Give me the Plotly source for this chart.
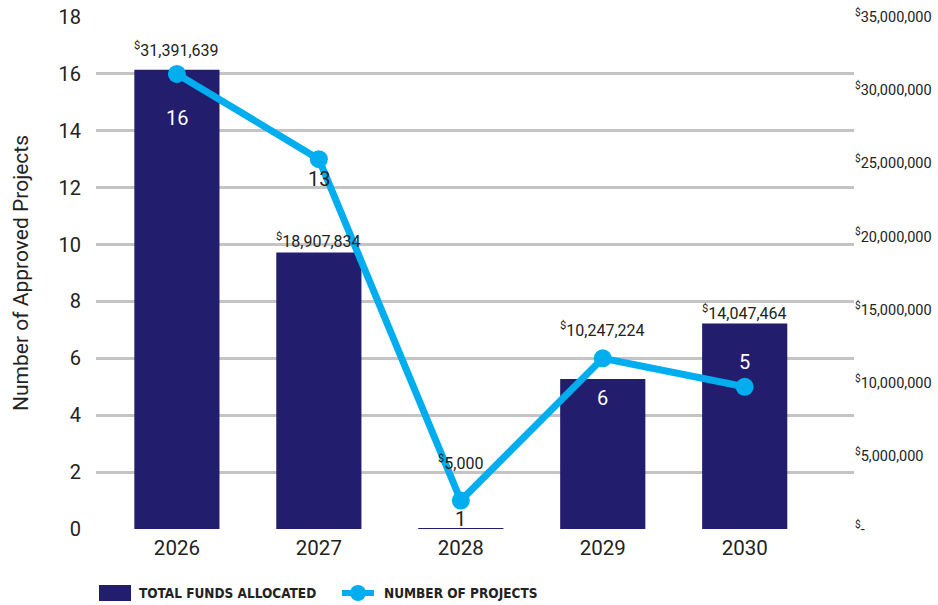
import plotly.graph_objects as go

# Data
years = ["2026", "2027", "2028", "2029", "2030"]
funds = [31391639, 18907834, 5000, 10247224, 14047464]
projects = [16, 13, 1, 6, 5]

left_ticks = [0, 2, 4, 6, 8, 10, 12, 14, 16, 18]
right_ticks = [0, 5000000, 10000000, 15000000, 20000000, 25000000, 30000000, 35000000]

# Styling
NAVY = "#231d6e"
BLUE = "#00aeef"
TEXT = "#222222"
GRID = "#c4c4c4"
FONT = "Roboto, 'Noto Sans', sans-serif"
LEGEND_FONT = "'Liberation Sans Narrow', 'DejaVu Sans Condensed', 'Roboto Condensed', sans-serif"

count_label_shift = [-44, -20, -18, -40, 25]
count_label_color = ["white", TEXT, TEXT, "white", "white"]
fund_label_shift = [20, 12, 66, 50, 11]

# plot area in pixels, used for the hand-built legend
PX_L, PX_R, PX_T, PX_B = 96, 854, 17, 529


def px_x(px):
    return (px - PX_L) / (PX_R - PX_L)


def px_y(py):
    return (PX_B - py) / (PX_B - PX_T)


def money(v):
    if v == 0:
        return "<sup>$</sup>-"
    return "<sup>$</sup>" + f"{v:,}"


fig = go.Figure()

# Funds bars on the base axis (right side), project line on the overlay (left side)
fig.add_trace(go.Bar(
    x=years, y=funds, yaxis="y", name="TOTAL FUNDS ALLOCATED",
    marker=dict(color=NAVY, line=dict(width=0)), width=0.6, showlegend=False,
))

fig.add_trace(go.Scatter(
    x=years, y=projects, yaxis="y2", name="NUMBER OF PROJECTS",
    mode="lines+markers",
    line=dict(color=BLUE, width=7),
    marker=dict(color=BLUE, size=18),
    showlegend=False,
))

annotations = []
for i, v in enumerate(funds):
    annotations.append(dict(
        x=i, y=v, xref="x", yref="y", text=money(v), showarrow=False,
        yshift=fund_label_shift[i], yanchor="middle",
        font=dict(family=FONT, size=16, color=TEXT),
    ))
for i, n in enumerate(projects):
    annotations.append(dict(
        x=i, y=n, xref="x", yref="y2", text=str(n), showarrow=False,
        yshift=count_label_shift[i], yanchor="middle",
        font=dict(family=FONT, size=20, color=count_label_color[i]),
    ))

# Legend entries
legend_y = px_y(593)
annotations += [
    dict(x=px_x(137), y=legend_y, xref="paper", yref="paper", xanchor="left",
         yanchor="middle", showarrow=False, text="<b>TOTAL FUNDS ALLOCATED</b>",
         font=dict(family=LEGEND_FONT, size=13.5, color=TEXT)),
    dict(x=px_x(382), y=legend_y, xref="paper", yref="paper", xanchor="left",
         yanchor="middle", showarrow=False, text="<b>NUMBER OF PROJECTS</b>",
         font=dict(family=LEGEND_FONT, size=13.5, color=TEXT)),
]
shapes = [
    dict(type="rect", xref="paper", yref="paper",
         x0=px_x(99), x1=px_x(131), y0=px_y(601), y1=px_y(585),
         fillcolor=NAVY, line=dict(width=0)),
    dict(type="line", xref="paper", yref="paper",
         x0=px_x(342), x1=px_x(374), y0=legend_y, y1=legend_y,
         line=dict(color=BLUE, width=6)),
    dict(type="circle", xref="paper", yref="paper",
         x0=px_x(350), x1=px_x(366), y0=px_y(601), y1=px_y(585),
         fillcolor=BLUE, line=dict(width=0)),
]

fig.update_layout(
    width=938, height=605,
    margin=dict(l=PX_L, r=938 - PX_R, t=PX_T, b=605 - PX_B, autoexpand=False),
    plot_bgcolor="white", paper_bgcolor="white",
    font=dict(family=FONT, color=TEXT),
    showlegend=False,
    xaxis=dict(
        type="category", range=[-0.57, 4.77],
        showgrid=False, showline=False, ticks="",
        tickfont=dict(size=20.5, color=TEXT), ticklabelstandoff=4,
    ),
    yaxis=dict(
        range=[0, 35000000], side="right",
        tickvals=right_ticks, ticktext=[money(v) for v in right_ticks],
        showgrid=False, zeroline=False, showline=False, ticks="",
        tickfont=dict(size=14.5, color=TEXT), ticklabelstandoff=0,
    ),
    yaxis2=dict(
        range=[0, 18], tickvals=left_ticks, overlaying="y", side="left",
        showgrid=True, gridcolor=GRID, gridwidth=2.5,
        zeroline=False, showline=False, ticks="",
        tickfont=dict(size=20, color=TEXT), ticklabelstandoff=14,
        title=dict(text="Number of Approved Projects",
                   font=dict(size=21, color=TEXT), standoff=24),
    ),
    annotations=annotations,
    shapes=shapes,
)

fig.write_html("out.html")
